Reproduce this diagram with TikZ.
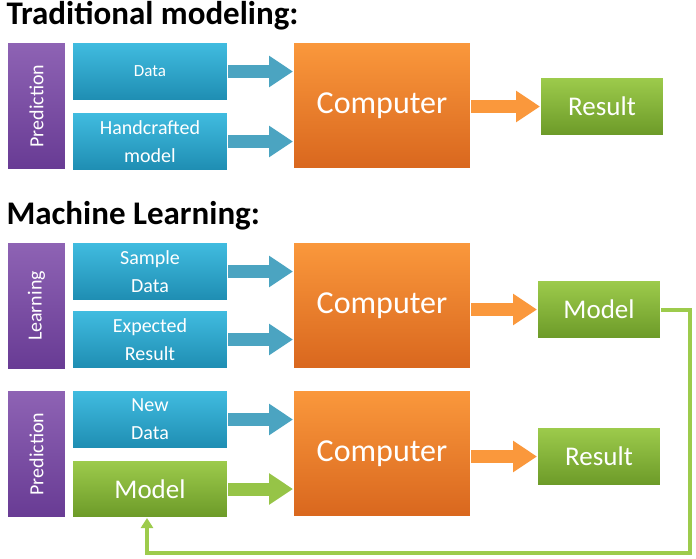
\documentclass[tikz,border=0pt]{standalone}
\usepackage{fontspec}
\setmainfont{Carlito}
\usetikzlibrary{arrows.meta}
\definecolor{bl1}{HTML}{41BCE0}\definecolor{bl2}{HTML}{1E8DB2}
\definecolor{or1}{HTML}{FA983C}\definecolor{or2}{HTML}{D9671E}
\definecolor{gr1}{HTML}{9DCB4C}\definecolor{gr2}{HTML}{6C9A28}
\definecolor{pu1}{HTML}{8E63B4}\definecolor{pu2}{HTML}{683B94}
\begin{document}
\begin{tikzpicture}[x=1pt,y=-1pt,
 box/.style={draw=white,line width=1pt,minimum width=#1,inner sep=0pt,align=center,text=white,anchor=north west,font=\fontsize{20}{28}\selectfont},
 blue/.style={box=155pt,minimum height=58pt,top color=bl1,bottom color=bl2},
 orng/.style={box=177pt,minimum height=126pt,top color=or1,bottom color=or2,font=\fontsize{32}{36}\selectfont},
 grn/.style={box=123pt,minimum height=58pt,top color=gr1,bottom color=gr2,font=\fontsize{27}{30}\selectfont},
 purp/.style={box=58pt,minimum height=127pt,top color=pu1,bottom color=pu2},
 ptxt/.style={rotate=90,text=white,font=\fontsize{20}{24}\selectfont},
 title/.style={anchor=west,font=\bfseries\fontsize{33}{36}\selectfont},
 barb/.style={line width=13pt,-{Triangle[width=30pt,length=24pt]},#1},
 barb/.default=bl2!80!white]
\useasboundingbox (0,0) rectangle (696,558);
\node[title] (t1) at (3,16) {Traditional modeling:};
\node[title] (t2) at (3,216) {Machine Learning:};
% row 1
\node[purp] (p1) at (7,42) {};
\node[ptxt] (p1t) at (p1.center) {Prediction};
\node[blue,font=\fontsize{17}{20}\selectfont] (d1) at (72,42) {Data};
\node[blue] (h1) at (72,112) {Handcrafted\\model};
\node[orng] (c1) at (293,42) {Computer};
\node[grn] (r1) at (540,77) {Result};
\draw[barb] (d1.east) -- (c1.west |- d1.east);
\draw[barb] (h1.east) -- (c1.west |- h1.east);
\draw[barb=or1] (c1.east |- r1.west) -- (r1.west);
% row 2
\node[purp] (p2) at (7,242) {};
\node[ptxt] (p2t) at (p2.center) {Learning};
\node[blue] (d2) at (72,242) {Sample\\Data};
\node[blue] (e2) at (72,310) {Expected\\Result};
\node[orng] (c2) at (293,242) {Computer};
\node[grn] (m2) at (537,280) {Model};
\draw[barb] (d2.east) -- (c2.west |- d2.east);
\draw[barb] (e2.east) -- (c2.west |- e2.east);
\draw[barb=or1] (c2.east |- m2.west) -- (m2.west);
% row 3
\node[purp] (p3) at (7,390) {};
\node[ptxt] (p3t) at (p3.center) {Prediction};
\node[blue] (d3) at (72,390) {New\\Data};
\node[grn,minimum width=155pt,minimum height=57pt] (m3) at (72,460) {Model};
\node[orng] (c3) at (293,390) {Computer};
\node[grn] (r3) at (537,427) {Result};
\draw[barb] (d3.east) -- (c3.west |- d3.east);
\draw[barb=gr1!85!gr2] (m3.east) -- (c3.west |- m3.east);
\draw[barb=or1] (c3.east |- r3.west) -- (r3.west);
% feedback
\coordinate (fb1) at (690,553);
\coordinate (fbx) at (147,0);
\draw[gr1,line width=4pt,-{Triangle[width=12pt,length=10pt]}] (m2.east) -- (m2.east -| fb1) -- (fb1) -- (fb1 -| fbx) -- (fbx |- m3.south);
\end{tikzpicture}
\end{document}
